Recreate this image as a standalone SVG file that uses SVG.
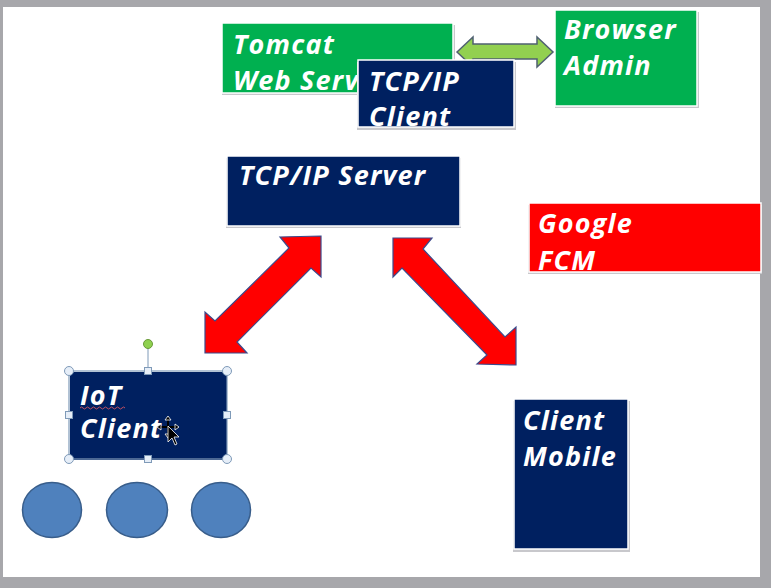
<svg xmlns="http://www.w3.org/2000/svg" width="771" height="588" viewBox="0 0 771 588">
<style>
.lbl{font-family:"Open Sans","Noto Sans","Liberation Sans",sans-serif;font-style:italic;font-weight:700;font-size:27px;letter-spacing:1.2px;fill:#ffffff}
.shadow{fill:#c8c8cc}
.navy{fill:#002060;stroke:#ffffff;stroke-width:1.5}
.green{fill:#00B050;stroke:#ffffff;stroke-width:1.5}
.red{fill:#FF0000;stroke:#ffffff;stroke-width:1.5}
.redarrow{fill:#FF0000;stroke:#3a4a8c;stroke-width:1.2;stroke-linejoin:miter}
.handle{fill:#e6eef8;stroke:#7f9ab8;stroke-width:1}
.dot{fill:#4F81BD;stroke:#385D8A;stroke-width:1.5}
</style>
<defs>
<clipPath id="cTomcat"><rect x="223" y="24" width="230" height="68"/></clipPath>
<clipPath id="cClient"><rect x="358" y="61" width="156" height="66"/></clipPath>
<clipPath id="cFcm"><rect x="529" y="204" width="232" height="68"/></clipPath>
</defs>
<!-- screen frame -->
<rect x="0" y="0" width="771" height="588" fill="#a7a7ab"/>
<rect x="3" y="7" width="757" height="570" fill="#ffffff"/>

<g id="connectors">
  <polygon id="link-tomcat-browser" points="457,52 473,37 473,44 537,44 537,37 553,52 537,67 537,59 473,59 473,67" fill="#92D050" stroke="#4f6070" stroke-width="1.5"/>
  <polygon id="link-server-iot" class="redarrow" points="321,236 321,277 311,268 237,342 247,353 205,353 205,312 215,321 289,248 280,237"/>
  <polygon id="link-server-mobile" class="redarrow" points="393,238 432,238 423,249 505,337 516,327 516,365 477,364 487,355 402,268 393,277"/>
</g>

<g id="node-tomcat">
  <rect class="shadow" x="222" y="25" width="233" height="70"/>
  <rect class="green" x="222" y="23" width="231" height="70"/>
  <g clip-path="url(#cTomcat)">
    <text class="lbl" x="233" y="54">Tomcat</text>
    <text class="lbl" x="233" y="90">Web Server</text>
  </g>
</g>

<g id="node-tcpip-client">
  <rect class="shadow" x="357" y="62" width="159" height="68"/>
  <rect class="navy" x="358" y="60" width="156" height="67"/>
  <g clip-path="url(#cClient)">
    <text class="lbl" x="369" y="91">TCP/IP</text>
    <text class="lbl" x="369" y="126">Client</text>
  </g>
</g>

<g id="node-browser-admin">
  <rect class="shadow" x="555" y="12" width="144" height="96"/>
  <rect class="green" x="555" y="10" width="142" height="96"/>
  <text class="lbl" x="564" y="39">Browser</text>
  <text class="lbl" x="564" y="75">Admin</text>
</g>

<g id="node-tcpip-server">
  <rect class="shadow" x="226" y="158" width="235" height="70"/>
  <rect class="navy" x="227" y="156" width="233" height="70"/>
  <text class="lbl" x="239" y="185">TCP/IP Server</text>
</g>

<g id="node-google-fcm">
  <rect class="shadow" x="528" y="205" width="234" height="69"/>
  <rect class="red" x="529" y="203" width="232" height="69"/>
  <g clip-path="url(#cFcm)">
    <text class="lbl" x="538" y="233">Google</text>
    <text class="lbl" x="538" y="270">FCM</text>
  </g>
</g>

<g id="node-iot-client">
  <rect x="70" y="372" width="157" height="88" fill="#002060"/>
  <rect x="69" y="371" width="158" height="88" fill="none" stroke="#7f9ab8" stroke-width="1.2"/>
  <text class="lbl" x="80" y="405">IoT</text>
  <text class="lbl" x="80" y="438">Client</text>
  <path d="M80,408 q1.5,-2 3,0 t3,0 t3,0 t3,0 t3,0 t3,0 t3,0 t3,0 t3,0 t3,0 t3,0 t3,0 t3,0 t3,0 t3,0" fill="none" stroke="#c05060" stroke-width="1"/>
  <line x1="148" y1="344" x2="148" y2="371" stroke="#7f9ab8" stroke-width="1"/>
  <circle cx="148" cy="344" r="4.5" fill="#8fd14f" stroke="#6a9a3a" stroke-width="1"/>
  <circle class="handle" cx="69" cy="371" r="4.5"/>
  <circle class="handle" cx="227" cy="371" r="4.5"/>
  <circle class="handle" cx="69" cy="459" r="4.5"/>
  <circle class="handle" cx="227" cy="459" r="4.5"/>
  <rect class="handle" x="144.5" y="367.5" width="7" height="7"/>
  <rect class="handle" x="144.5" y="455.5" width="7" height="7"/>
  <rect class="handle" x="65.5" y="411.5" width="7" height="7"/>
  <rect class="handle" x="223.5" y="411.5" width="7" height="7"/>
  <g id="cursor" stroke="#ffffff" stroke-width="0.8">
    <path d="M168,418 l0,18 M159,427 l18,0" stroke="#000" stroke-width="2"/>
    <polygon points="168,416 165,420 171,420" fill="#000"/>
    <polygon points="168,438 165,434 171,434" fill="#000"/>
    <polygon points="157,427 161,424 161,430" fill="#000"/>
    <polygon points="179,427 175,424 175,430" fill="#000"/>
    <polygon points="168,426 168,442 172,438 175,445 177,444 174,437 179,437" fill="#000"/>
  </g>
</g>

<g id="node-client-mobile">
  <rect class="shadow" x="513" y="401" width="117" height="151"/>
  <rect class="navy" x="514" y="399" width="114" height="150"/>
  <text class="lbl" x="523" y="430">Client</text>
  <text class="lbl" x="523" y="466">Mobile</text>
</g>

<g id="node-dot-1"><ellipse class="dot" cx="52" cy="510" rx="29.5" ry="27.5"/></g>
<g id="node-dot-2"><ellipse class="dot" cx="137" cy="510" rx="30.5" ry="27.5"/></g>
<g id="node-dot-3"><ellipse class="dot" cx="221" cy="510" rx="29.5" ry="27.5"/></g>
</svg>
